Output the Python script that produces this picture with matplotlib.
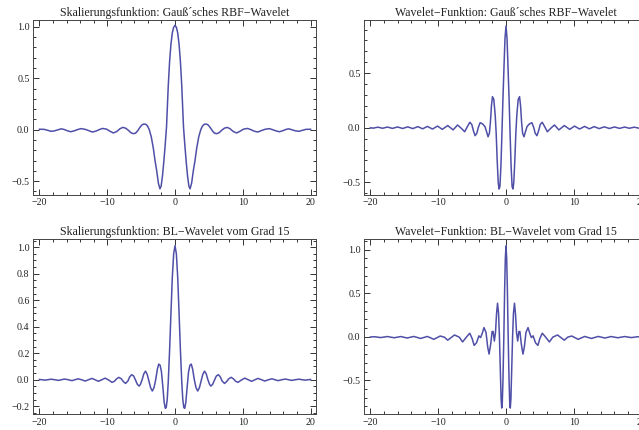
import matplotlib
matplotlib.use("Agg")
import matplotlib.pyplot as plt
from matplotlib.ticker import MultipleLocator, FuncFormatter

# values, x >= 0 half (curves are symmetric)
gauss_phi_x = [0, 0.2, 0.4, 0.6, 0.8, 1.0, 1.25, 1.45, 1.65, 1.85, 2.05, 2.22, 2.45, 2.7, 2.95,
               3.2, 3.5, 3.8, 4.05, 4.3, 4.6, 4.9, 5.2, 5.5, 5.8, 6.15, 6.5, 6.9, 7.3, 7.7,
               8.1, 8.6, 9.1, 9.6, 10.1, 10.7, 11.2, 11.7, 12.2, 12.7, 13.3, 13.9, 14.4,
               14.9, 15.4, 15.9, 16.4, 16.8, 17.3, 17.8, 18.3, 18.8, 19.3, 20.0]
gauss_phi_y = [1.015, 0.995, 0.94, 0.83, 0.66, 0.42, 0.03, -0.15, -0.31, -0.45, -0.55, -0.575,
               -0.52, -0.4, -0.3, -0.18, -0.07, 0.0, 0.035, 0.052, 0.055, 0.045, 0.02, -0.01,
               -0.033, -0.039, -0.03, -0.005, 0.015, 0.022, 0.01, -0.018, -0.032, -0.015,
               0.005, 0.012, 0.0, -0.015, -0.023, -0.01, 0.004, 0.01, 0.0, -0.012, -0.02,
               -0.01, 0.003, 0.008, -0.002, -0.012, -0.016, -0.006, 0.003, 0.004]

gauss_psi_x = [0, 0.15, 0.3, 0.45, 0.6, 0.75, 0.9, 1.03, 1.15, 1.3, 1.45, 1.6, 1.8, 2.0,
               2.15, 2.3, 2.45, 2.65, 2.85, 3.1, 3.45, 3.82, 4.1, 4.3, 4.56, 4.8, 5.05, 5.34,
               5.7, 6.1, 6.6, 7.15, 7.8, 8.6, 9.4, 10.1, 10.85, 11.6, 12.3, 13.0, 13.75,
               14.5, 15.25, 16.0, 16.75, 17.5, 18.2, 18.9, 19.6, 20.0]
gauss_psi_y = [0.933, 0.82, 0.55, 0.27, -0.05, -0.35, -0.54, -0.562, -0.5, -0.3, -0.05,
               0.12, 0.26, 0.285, 0.2, 0.05, -0.05, -0.083, -0.04, 0.01, 0.035, 0.046, 0.0,
               -0.05, -0.073, -0.03, 0.03, 0.05, 0.01, -0.037, -0.005, 0.025, -0.02, 0.02,
               -0.015, 0.015, -0.012, 0.012, -0.01, 0.01, -0.008, 0.008, -0.007, 0.007,
               -0.006, 0.006, -0.005, 0.005, -0.004, 0.0]

bl_phi_x = [0, 0.2, 0.4, 0.6, 0.8, 1.0, 1.15, 1.3, 1.43, 1.6, 1.8, 2.0, 2.2, 2.4, 2.6,
            2.85, 3.1, 3.35, 3.6, 3.9, 4.1, 4.35, 4.6, 4.85, 5.1, 5.3, 5.55, 5.85, 6.1,
            6.4, 6.7, 6.95, 7.3, 7.6, 7.95, 8.3, 8.65, 8.95, 9.3, 9.7, 10.3, 10.8, 11.3,
            11.8, 12.25, 12.75, 13.25, 13.8, 14.3, 14.75, 15.2, 15.75, 16.3, 16.75, 17.2,
            17.75, 18.3, 18.75, 19.2, 20.0]
bl_phi_y = [1.012, 0.95, 0.77, 0.5, 0.22, -0.02, -0.15, -0.21, -0.216, -0.17, -0.05, 0.06,
            0.11, 0.118, 0.08, 0.0, -0.06, -0.085, -0.06, 0.0, 0.04, 0.065, 0.045, 0.0,
            -0.035, -0.048, -0.035, 0.0, 0.028, 0.038, 0.02, -0.01, -0.028, -0.015, 0.008,
            0.018, 0.005, -0.012, -0.02, -0.005, 0.012, 0.0, -0.012, 0.0, 0.01, 0.0, -0.01,
            0.0, 0.007, 0.0, -0.007, 0.0, 0.005, 0.0, -0.005, 0.0, 0.004, 0.0, -0.003, 0.002]

bl_psi_x = [0, 0.1, 0.2, 0.32, 0.45, 0.55, 0.63, 0.72, 0.85, 0.97, 1.1, 1.25, 1.4, 1.55,
            1.72, 1.9, 2.05, 2.25, 2.5, 2.7, 2.95, 3.25, 3.5, 3.75, 4.0, 4.35, 4.7, 5.0,
            5.35, 5.8, 6.4, 6.9, 7.6, 8.1, 8.6, 9.1, 9.7, 10.65, 11.6, 12.6, 13.6, 14.6,
            15.5, 16.5, 17.5, 18.5, 19.4, 20.0]
bl_psi_y = [1.045, 0.9, 0.55, 0.0, -0.5, -0.76, -0.82, -0.72, -0.35, 0.0, 0.27, 0.385,
            0.26, 0.05, -0.05, 0.06, 0.06, -0.08, -0.2, -0.12, 0.05, 0.105, 0.04, -0.01,
            0.01, -0.07, -0.1, -0.02, 0.04, 0.0, -0.06, -0.005, 0.02, -0.01, -0.04, -0.005,
            0.008, -0.03, 0.003, -0.02, 0.003, -0.015, 0.002, -0.012, 0.002, -0.01, 0.0,
            -0.003]

titles = ["Skalierungsfunktion: Gau\u00df\u00b4sches RBF\u2212Wavelet",
          "Wavelet\u2212Funktion: Gau\u00df\u00b4sches RBF\u2212Wavelet",
          "Skalierungsfunktion: BL\u2212Wavelet vom Grad 15",
          "Wavelet\u2212Funktion: BL\u2212Wavelet vom Grad 15"]

LINE = "#4f4fa8"


def Mirror(xs, ys):
    """Builds the full curve from the x >= 0 half"""
    x = [-v for v in reversed(xs[1:])] + list(xs)
    y = list(reversed(ys[1:])) + list(ys)
    return x, y


def Style(ax, ylim, ymajor, yminor, fmt):
    ax.set_xlim(-20.95, 20.8)
    ax.set_ylim(*ylim)
    ax.xaxis.set_major_locator(MultipleLocator(10))
    ax.xaxis.set_minor_locator(MultipleLocator(2))
    ax.yaxis.set_major_locator(MultipleLocator(ymajor))
    ax.yaxis.set_minor_locator(MultipleLocator(yminor))
    ax.yaxis.set_major_formatter(FuncFormatter(lambda v, p: (fmt % v).replace("-", "\u2212")))
    ax.xaxis.set_major_formatter(FuncFormatter(lambda v, p: ("%d" % round(v)).replace("-", "\u2212")))
    ax.tick_params(which="both", direction="in", top=True, right=True, color="#333333",
                   width=0.7, labelsize=7.2, labelcolor="#222222", pad=2.5)
    ax.tick_params(which="major", length=4)
    ax.tick_params(which="minor", length=2)
    for s in ax.spines.values():
        s.set_color("#444444")
        s.set_linewidth(0.7)


def main():
    plt.rcParams["font.family"] = ["Liberation Serif", "DejaVu Serif"]
    fig = plt.figure(figsize=(6.39, 4.30), dpi=100)
    w, h = 283 / 639, 175 / 430
    boxes = [(33 / 639, 1 - 195 / 430), (364 / 639, 1 - 195 / 430),
             (33 / 639, 1 - 414.3 / 430), (364 / 639, 1 - 414.3 / 430)]
    curves = [(gauss_phi_x, gauss_phi_y), (gauss_psi_x, gauss_psi_y),
              (bl_phi_x, bl_phi_y), (bl_psi_x, bl_psi_y)]
    limits = [((-0.635, 1.066), 0.5, 0.1, "%.1f"),
              ((-0.617, 0.988), 0.5, 0.1, "%.1f"),
              ((-0.261, 1.06), 0.2, 0.05, "%.1f"),
              ((-0.892, 1.12), 0.5, 0.1, "%.1f")]
    for box, (xs, ys), lim, title in zip(boxes, curves, limits, titles):
        ax = fig.add_axes([box[0], box[1], w, h])
        x, y = Mirror(xs, ys)
        ax.plot(x, y, color=LINE, lw=1.1, solid_joinstyle="round")
        Style(ax, *lim)
        ax.set_title(title, fontsize=8.6, color="#222222", pad=3)
    fig.savefig("out.png", dpi=100)


if __name__ == "__main__":
    main()
